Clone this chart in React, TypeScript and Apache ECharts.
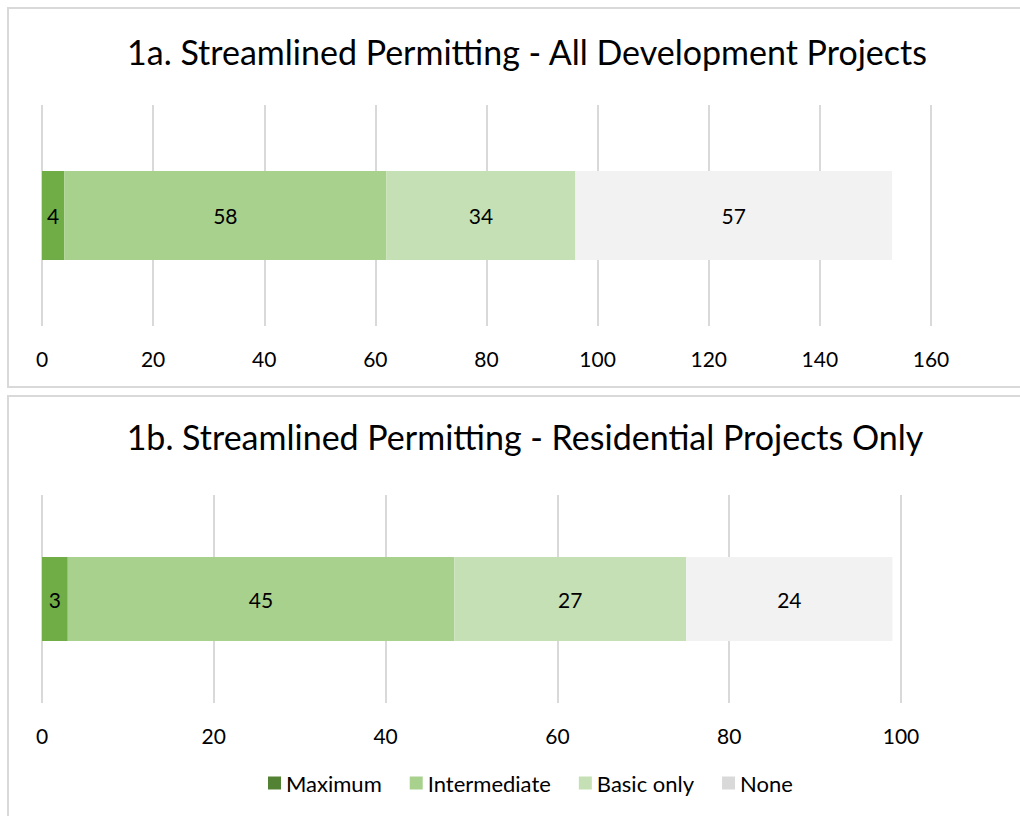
import React, { useEffect, useRef } from "react";
import * as echarts from "echarts";

const seriesNames = ["Maximum", "Intermediate", "Basic only", "None"];
const allProjects = [4, 58, 34, 57];
const residentialProjects = [3, 45, 27, 24];
const barColors = ["#70AD47", "#A9D18E", "#C5E0B4", "#F2F2F2"];
const legendColors = ["#548235", "#A9D18E", "#C5E0B4", "#D9D9D9"];
const titles = [
  "1a. Streamlined Permitting - All Development Projects",
  "1b. Streamlined Permitting - Residential Projects Only",
];
const FONT = "Lato, 'Open Sans', sans-serif";

export default function App() {
  const ref = useRef<HTMLDivElement>(null);
  useEffect(() => {
    if (!ref.current) return;
    const chart = echarts.init(ref.current, undefined, { renderer: "svg" });
    const mkSeries = (data: number[], idx: number) =>
      seriesNames.map((name, i) => ({
        name,
        type: "bar",
        stack: "s" + idx,
        xAxisIndex: idx,
        yAxisIndex: idx,
        barWidth: idx === 0 ? 89 : 84,
        data: [data[i]],
        itemStyle: { color: barColors[i] },
        label: {
          show: true,
          position: "inside",
          color: "#000",
          fontSize: 21,
          fontFamily: FONT,
        },
      }));
    const axisCommon = {
      type: "value",
      axisLine: { show: false },
      axisTick: { show: false },
      splitLine: { show: true, lineStyle: { color: "#D9D9D9", width: 2 } },
      axisLabel: { color: "#000", fontSize: 21, fontFamily: FONT, margin: 22 },
    };
    chart.setOption({
      animation: false,
      backgroundColor: "#fff",
      textStyle: { fontFamily: FONT },
      title: [
        {
          text: titles[0],
          left: 522,
          top: 29,
          textAlign: "center",
          textStyle: { fontSize: 34, fontWeight: "normal", color: "#000", fontFamily: FONT },
        },
        {
          text: titles[1],
          left: 520,
          top: 414,
          textAlign: "center",
          textStyle: { fontSize: 34, fontWeight: "normal", color: "#000", fontFamily: FONT },
        },
      ],
      graphic: [
        {
          type: "rect",
          shape: { x: 8, y: 8, width: 1040, height: 379 },
          style: { fill: "none", stroke: "#D9D9D9", lineWidth: 2 },
          z: -1,
        },
        {
          type: "rect",
          shape: { x: 8, y: 396, width: 1040, height: 440 },
          style: { fill: "none", stroke: "#D9D9D9", lineWidth: 2 },
          z: -1,
        },
      ],
      legend: {
        bottom: 17,
        left: 263,
        itemWidth: 13,
        itemHeight: 13,
        itemGap: 28,
        icon: "rect",
        textStyle: { fontSize: 22, color: "#000", fontFamily: FONT },
        data: seriesNames.map((n, i) => ({ name: n, itemStyle: { color: legendColors[i] } })),
      },
      grid: [
        { left: 42, width: 889, top: 105, height: 221 },
        { left: 42, width: 859, top: 495, height: 208 },
      ],
      xAxis: [
        { ...axisCommon, gridIndex: 0, min: 0, max: 160, interval: 20 },
        { ...axisCommon, gridIndex: 1, min: 0, max: 100, interval: 20 },
      ],
      yAxis: [
        { type: "category", gridIndex: 0, data: [""], show: false },
        { type: "category", gridIndex: 1, data: [""], show: false },
      ],
      series: [...mkSeries(allProjects, 0), ...mkSeries(residentialProjects, 1)],
    });
    return () => chart.dispose();
  }, []);
  return (
    <div
      ref={ref}
      style={{ position: "absolute", left: 0, top: 0, width: 1020, height: 816 }}
    />
  );
}
